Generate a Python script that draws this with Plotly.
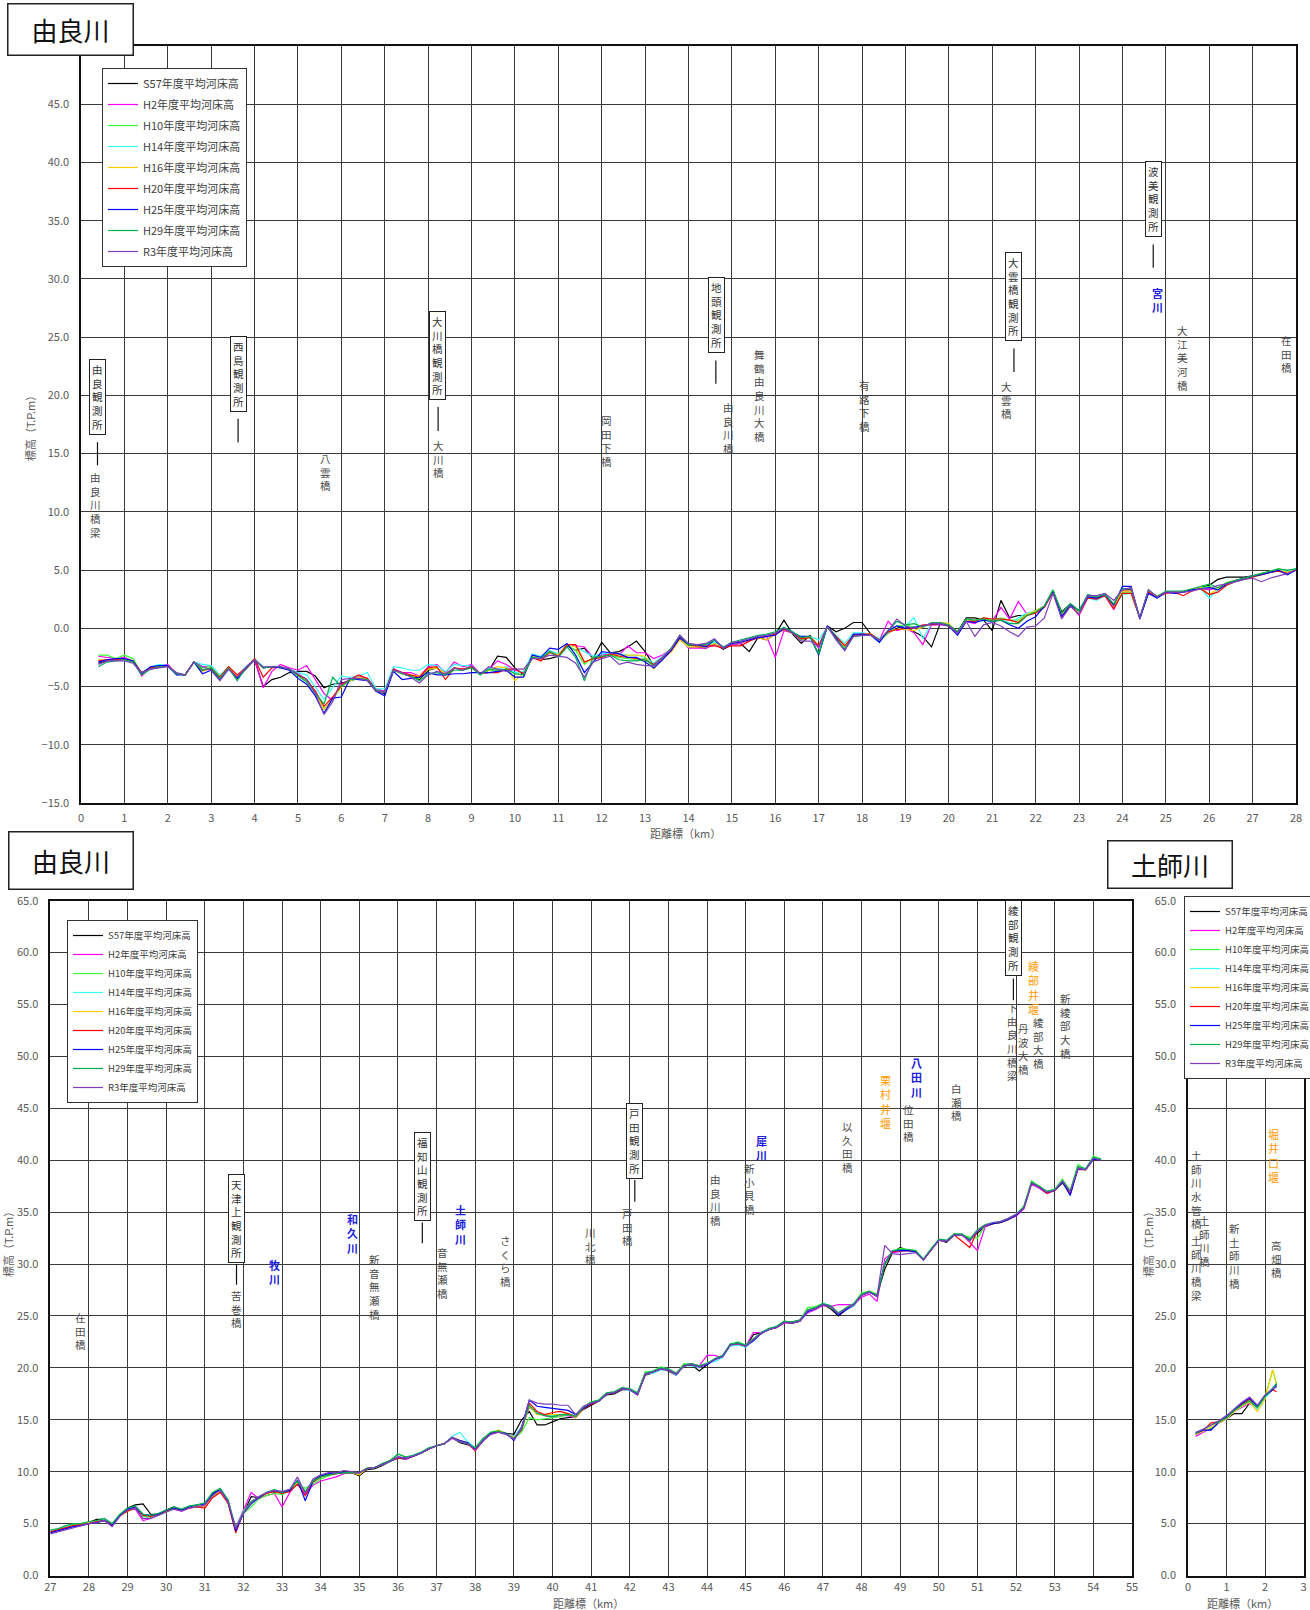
import plotly.graph_objects as go

FONT = "Noto Sans CJK JP, Noto Sans, sans-serif"
W, H = 1310, 1610

series_names = ["S57年度平均河床高", "H2年度平均河床高", "H10年度平均河床高", "H14年度平均河床高",
                "H16年度平均河床高", "H20年度平均河床高", "H25年度平均河床高", "H29年度平均河床高",
                "R3年度平均河床高"]
series_colors = ["#000000", "#ff00ff", "#33ff33", "#33ffff", "#ffcc00", "#ff0000", "#0000ff",
                 "#00b050", "#7f3fbf"]

# ---------------- 由良川 0-28 km ----------------
yura1_km = [round(0.4 + 0.2 * i, 1) for i in range(139)]

yura1_S57 = [-3.0,-2.8,-2.7,-2.6,-2.8,-3.9,-3.5,-3.3,-3.2,-3.9,-4.0,-2.9,-3.6,-3.5,-4.3,-3.4,-4.3,-3.5,-2.7,
             -5.0,-4.4,-4.2,-3.8,-3.7,-3.7,-4.1,-5.1,-4.8,-4.7,-4.5,-4.3,-4.4,-5.4,-5.6,
             -3.5,-3.9,-4.1,-4.4,-3.6,-3.4,-4.0,-3.4,-3.6,-3.3,-3.9,-3.6,-2.4,-2.5,-3.4,
             -4.0,-2.5,-2.7,-2.6,-2.4,-1.5,-1.9,-1.7,-2.6,-1.2,-2.1,-2.0,-1.6,-1.1,-2.0,
             -3.2,-2.6,-2.0,-0.9,-1.6,-1.6,-1.7,-1.3,-1.8,-1.4,-1.3,-2.0,-0.8,-1.0,-0.5,
             0.7,-0.5,-1.3,-0.6,-1.6,0.2,-0.3,0.0,0.5,0.5,-0.5,-1.0,-0.4,0.0,0.2,
             -0.3,-0.7,-1.6,0.4,0.3,-0.3,0.9,0.9,0.7,-0.2,2.4,0.9,1.1,1.1,1.5,
             1.9,3.2,1.4,2.1,1.5,2.8,2.6,2.8,1.9,3.3,3.3,0.9,3.2,2.7,3.1,
             3.1,3.1,3.3,3.5,3.7,4.2,4.4,4.4,4.4,4.5,4.7,4.8,5.0,4.8,5.0]
yura1_H2 = [-2.4,-2.5,-2.6,-2.5,-2.8,-4.1,-3.4,-3.2,-3.1,-3.9,-4.0,-2.9,-3.3,-3.2,-4.1,-3.4,-4.1,-3.3,-2.7,
            -5.1,-3.7,-3.1,-3.4,-3.6,-3.2,-4.4,-5.6,-6.2,-4.8,-4.4,-4.1,-4.3,-5.2,-5.4,
            -3.5,-3.8,-3.8,-4.1,-3.3,-3.1,-3.8,-2.9,-3.3,-3.1,-3.9,-3.5,-2.8,-3.1,-3.6,
            -3.8,-2.4,-2.7,-2.1,-2.4,-1.4,-1.5,-1.6,-2.5,-2.3,-2.2,-2.3,-1.5,-2.1,-2.1,
            -2.6,-2.3,-1.8,-0.8,-1.7,-1.7,-1.7,-1.4,-1.7,-1.4,-1.3,-1.0,-0.8,-0.7,-2.5,
            -0.2,-0.4,-1.0,-0.7,-1.7,0.1,-0.9,-1.8,-0.6,-0.6,-0.5,-1.0,0.6,-0.2,0.0,
            -0.4,-1.4,0.3,0.3,0.2,-0.4,0.6,0.4,0.9,0.6,1.8,0.8,2.3,1.2,1.4,
            1.8,3.2,1.0,2.0,1.1,2.6,2.5,2.8,1.6,3.2,3.2,0.9,3.1,2.6,3.1,
            3.1,3.1,3.3,3.4,3.3,3.5,3.8,4.1,4.3,4.5,4.6,4.8,5.0,4.7,5.0]
yura1_H10 = [-2.3,-2.3,-2.6,-2.3,-2.6,-3.9,-3.4,-3.2,-3.2,-3.9,-4.0,-2.9,-3.4,-3.3,-4.1,-3.3,-4.1,-3.4,-2.6,
             -3.4,-3.3,-3.3,-3.6,-4.0,-4.5,-5.6,-6.9,-6.1,-5.0,-4.5,-4.3,-4.4,-5.4,-5.5,
             -3.6,-3.9,-4.1,-4.3,-3.5,-3.4,-3.9,-3.4,-3.6,-3.3,-3.9,-3.6,-3.6,-3.5,-3.9,
             -4.0,-2.4,-2.6,-2.0,-2.3,-1.4,-1.9,-3.1,-2.5,-2.4,-2.3,-2.5,-2.6,-2.7,-2.6,
             -3.2,-2.5,-1.9,-0.8,-1.5,-1.5,-1.6,-1.2,-1.7,-1.3,-1.2,-1.0,-0.8,-0.6,-0.4,
             -0.1,-0.4,-1.0,-0.7,-2.2,0.1,-0.8,-1.7,-0.6,-0.5,-0.5,-1.1,-0.4,0.2,0.3,
             0.1,0.1,0.4,0.4,0.2,-0.3,0.7,0.6,0.9,0.7,0.9,0.7,0.7,1.2,1.5,
             1.9,3.3,1.2,2.0,1.5,2.8,2.7,2.9,2.0,3.1,3.1,0.9,3.2,2.8,3.1,
             3.1,3.2,3.3,3.5,3.6,3.4,3.9,4.1,4.3,4.5,4.7,4.9,5.1,4.9,5.1]
yura1_H14 = [-2.7,-2.7,-2.7,-2.6,-2.8,-3.8,-3.3,-3.1,-3.2,-3.9,-4.0,-2.9,-3.1,-3.2,-4.0,-3.4,-4.1,-3.3,-2.7,
             -3.3,-3.3,-3.3,-3.5,-3.8,-4.0,-5.0,-6.1,-5.1,-4.1,-4.2,-4.1,-3.8,-5.2,-5.2,
             -3.3,-3.4,-3.6,-3.6,-3.1,-3.2,-3.7,-3.1,-3.2,-3.2,-3.9,-3.4,-3.5,-3.3,-3.8,
             -3.7,-2.2,-2.4,-1.9,-2.2,-1.4,-1.6,-2.0,-2.4,-2.2,-2.1,-2.2,-2.3,-2.3,-2.5,
             -3.0,-2.4,-1.8,-1.0,-1.6,-1.5,-1.6,-1.2,-1.7,-1.3,-1.1,-0.9,-0.7,-0.6,-0.5,
             0.0,-0.3,-0.8,-0.7,-1.0,0.1,-0.6,-1.3,-0.4,-0.4,-0.5,-0.9,-0.3,-0.1,0.2,
             0.9,-0.9,0.4,0.4,0.2,-0.4,0.7,0.6,0.7,0.6,0.8,0.4,0.9,1.3,1.5,
             1.9,3.2,1.1,2.0,1.3,2.6,2.4,2.8,1.8,2.9,3.0,0.9,3.1,2.6,3.1,
             3.1,3.1,3.3,3.4,2.6,3.3,3.7,4.0,4.2,4.4,4.6,4.8,5.0,4.9,5.1]
yura1_H16 = [-2.7,-2.7,-2.7,-2.6,-2.8,-3.9,-3.4,-3.3,-3.2,-3.9,-4.0,-2.9,-3.7,-3.4,-4.2,-3.4,-4.1,-3.4,-2.7,
             -3.4,-3.3,-3.4,-3.5,-4.0,-4.4,-5.5,-7.0,-6.0,-5.0,-4.5,-4.2,-4.4,-5.4,-5.5,
             -3.6,-3.9,-4.0,-4.1,-3.5,-3.4,-3.9,-3.4,-3.5,-3.3,-3.9,-3.6,-3.3,-3.4,-4.5,
             -3.9,-2.4,-2.7,-2.1,-2.3,-1.4,-1.6,-2.9,-2.7,-2.5,-2.2,-2.3,-2.3,-2.3,-2.4,
             -3.5,-2.6,-2.0,-1.0,-1.6,-1.6,-1.6,-1.3,-1.7,-1.3,-1.2,-1.0,-0.8,-1.0,-0.5,
             -0.1,-0.4,-0.9,-0.7,-1.5,0.1,-0.7,-1.5,-0.6,-0.5,-0.5,-1.0,-0.3,-0.1,-0.1,
             -0.2,0.1,0.4,0.5,0.4,-0.4,0.7,0.7,0.8,0.6,0.8,0.7,0.5,1.2,1.5,
             1.9,3.2,1.1,2.0,1.4,2.7,2.6,2.9,1.9,3.2,3.2,0.9,3.2,2.7,3.1,
             3.1,3.1,3.3,3.5,2.9,3.4,3.9,4.1,4.3,4.5,4.6,4.9,5.0,4.8,5.0]
yura1_H20 = [-2.8,-2.7,-2.7,-2.6,-2.8,-3.8,-3.4,-3.3,-3.2,-3.9,-4.0,-2.9,-3.6,-3.4,-4.2,-3.3,-4.0,-3.4,-2.6,
             -4.2,-3.4,-3.3,-3.5,-4.0,-4.4,-5.4,-6.7,-5.9,-4.9,-4.4,-4.0,-4.3,-5.3,-5.5,
             -3.5,-3.8,-4.0,-4.2,-3.4,-3.3,-4.4,-3.4,-3.5,-3.3,-3.9,-3.8,-3.8,-3.5,-3.5,
             -3.9,-2.5,-2.8,-2.0,-2.4,-1.4,-1.4,-2.9,-2.6,-2.5,-2.2,-2.4,-2.5,-2.6,-2.7,
             -3.1,-2.5,-1.9,-0.8,-1.4,-1.5,-1.5,-1.5,-1.7,-1.5,-1.5,-1.1,-0.8,-0.7,-0.5,
             -0.1,-0.4,-0.9,-0.8,-1.5,0.1,-0.7,-1.5,-0.6,-0.5,-0.5,-1.0,-0.3,-0.1,0.0,
             0.0,0.3,0.3,0.4,0.2,-0.4,0.6,0.6,0.9,0.8,0.8,0.7,0.5,1.1,1.3,
             1.8,3.1,1.0,1.9,1.2,2.6,2.5,2.8,1.7,3.0,3.0,0.9,3.1,2.7,3.0,
             3.1,2.8,3.2,3.4,2.9,3.1,3.7,4.0,4.2,4.4,4.6,4.8,4.9,4.7,5.0]
yura1_H25 = [-2.9,-2.7,-2.6,-2.6,-2.8,-3.9,-3.3,-3.2,-3.2,-4.0,-4.0,-2.9,-3.9,-3.6,-4.4,-3.5,-4.3,-3.4,-2.7,
             -3.4,-3.3,-3.4,-3.6,-4.3,-4.8,-5.8,-7.3,-6.0,-5.9,-4.3,-4.4,-4.5,-5.4,-5.8,
             -3.7,-4.4,-4.3,-4.2,-3.8,-4.0,-4.0,-3.9,-3.9,-3.8,-3.8,-3.8,-3.7,-3.6,-4.2,
             -4.2,-2.3,-2.5,-1.7,-1.8,-1.3,-2.3,-3.8,-2.9,-2.0,-2.1,-2.2,-2.5,-2.5,-2.9,
             -3.4,-2.7,-1.9,-0.8,-1.4,-1.4,-1.6,-1.0,-1.7,-1.3,-1.2,-1.0,-0.8,-0.7,-0.6,
             0.0,-0.4,-0.7,-0.7,-2.3,0.2,-0.8,-1.9,-0.5,-0.5,-0.6,-1.2,-0.2,0.2,0.0,
             0.1,0.2,0.4,0.4,0.2,-0.6,0.6,0.5,0.7,0.6,0.7,0.3,0.0,0.6,1.0,
             1.9,3.2,1.0,2.0,1.5,2.7,2.6,2.9,2.0,3.6,3.6,0.8,3.0,2.6,3.1,
             3.0,3.1,3.3,3.4,3.5,3.3,3.8,4.1,4.3,4.5,4.6,4.8,5.0,4.6,5.0]
yura1_H29 = [-3.3,-2.9,-2.8,-2.7,-2.9,-4.0,-3.5,-3.3,-3.3,-3.9,-4.0,-2.9,-3.6,-3.4,-4.3,-3.4,-4.5,-3.4,-2.7,
             -3.4,-3.3,-3.3,-3.5,-4.1,-4.6,-5.6,-6.5,-4.2,-5.0,-4.4,-4.3,-4.4,-5.3,-5.5,
             -3.6,-3.9,-4.1,-4.5,-3.9,-3.8,-4.0,-3.6,-3.6,-3.4,-4.0,-3.5,-3.6,-3.5,-3.9,
             -4.0,-2.5,-2.6,-2.0,-2.5,-1.6,-2.5,-4.5,-2.5,-2.4,-2.3,-2.7,-2.8,-2.8,-2.7,
             -3.2,-2.5,-1.7,-0.6,-1.4,-1.4,-1.4,-1.0,-1.6,-1.2,-1.0,-0.8,-0.6,-0.5,-0.3,
             0.1,-0.3,-0.8,-0.7,-2.2,0.2,-0.9,-1.8,-0.7,-0.6,-0.6,-1.0,-0.2,0.6,0.3,
             0.4,0.1,0.5,0.5,0.3,-0.3,0.8,0.7,0.8,0.6,0.7,0.4,0.4,1.1,1.4,
             1.9,3.3,1.3,2.1,1.5,2.9,2.7,2.9,2.1,3.4,3.4,0.9,3.3,2.7,3.2,
             3.2,3.2,3.4,3.6,3.8,3.5,3.9,4.1,4.3,4.5,4.7,4.9,5.1,5.0,5.1]
yura1_R3 = [-3.1,-2.8,-2.8,-2.8,-3.0,-3.8,-3.5,-3.4,-3.3,-3.8,-4.0,-2.9,-3.3,-3.6,-4.5,-3.5,-4.2,-3.4,-2.7,
            -3.3,-3.3,-3.3,-3.5,-3.9,-4.4,-5.6,-7.4,-6.3,-4.4,-4.3,-4.3,-4.5,-5.4,-5.5,
            -3.6,-3.8,-4.2,-4.7,-4.0,-3.7,-3.9,-3.4,-3.6,-3.2,-3.9,-3.3,-3.5,-3.7,-3.5,
            -3.5,-2.6,-2.6,-2.3,-2.4,-2.5,-3.0,-4.2,-2.9,-2.6,-2.4,-3.1,-2.9,-3.1,-3.2,
            -3.2,-2.5,-1.8,-0.6,-1.3,-1.4,-1.3,-0.9,-1.7,-1.2,-1.1,-0.9,-0.7,-0.6,-0.4,
            0.0,-0.4,-1.1,-1.1,-1.6,0.2,-1.0,-1.9,-0.7,-0.6,-0.6,-1.0,-0.2,0.8,0.2,
            0.0,0.2,0.4,0.4,0.2,-0.4,0.6,-0.7,0.3,0.5,0.2,-0.3,-0.7,0.1,0.2,
            0.9,3.0,0.8,1.9,1.2,2.8,2.8,3.0,2.4,3.3,3.5,0.9,3.3,2.7,3.1,
            3.1,3.1,3.2,3.4,3.4,3.7,3.8,4.0,4.2,4.3,4.0,4.3,4.5,4.7,5.0]

# ---------------- 由良川 27-55 km ----------------
yura2_km = [round(27.0 + 0.2 * i, 1) for i in range(137)]

yura2_S57 = [4.3,4.5,4.6,4.9,5.0,5.1,5.4,5.4,4.9,5.8,6.5,6.8,6.9,5.9,5.9,
             6.3,6.6,6.3,6.6,6.7,6.8,7.9,8.3,7.0,4.5,6.0,7.6,7.5,8.0,8.0,
             8.0,8.1,9.1,8.0,9.1,9.6,9.8,9.9,10.0,9.9,9.6,10.2,10.3,10.6,11.0,
             11.3,11.2,11.5,11.8,12.2,12.5,12.7,13.3,12.8,12.6,12.3,13.1,13.7,13.9,13.7,
             13.6,15.0,15.8,14.5,14.5,14.8,15.1,15.2,15.3,16.0,16.4,16.8,17.4,17.5,17.9,
             17.9,17.4,19.3,19.5,19.9,19.7,19.3,20.2,20.3,19.7,20.3,20.8,21.1,22.2,22.3,
             22.0,23.2,23.4,23.7,23.9,24.4,24.4,24.6,25.5,25.8,26.1,25.7,25.0,25.6,26.0,
             27.0,27.3,27.0,29.5,31.1,31.6,31.3,31.2,30.4,31.4,32.3,32.1,32.8,32.8,32.4,
             33.0,33.6,33.9,34.0,34.3,34.7,35.4,37.8,37.4,36.9,37.1,37.8,37.0,39.2,39.1,
             40.2,40.0]
yura2_H2 = [4.2,4.4,4.7,4.8,4.9,5.0,5.2,5.3,4.8,5.7,6.3,6.4,5.3,5.5,5.8,
            6.2,6.4,6.2,6.5,6.6,6.7,7.6,8.1,7.0,4.6,6.3,8.0,7.4,7.7,7.9,
            6.6,8.0,8.9,7.8,8.7,9.1,9.3,9.5,9.8,9.9,9.8,10.3,10.4,10.7,11.0,
            11.5,11.2,11.5,11.8,12.2,12.5,12.7,13.2,12.9,12.7,12.1,13.0,13.6,13.8,13.6,
            13.4,14.2,16.2,15.7,15.4,15.2,15.4,15.4,15.2,16.1,16.6,16.8,17.5,17.6,18.0,
            17.9,17.4,19.4,19.6,19.9,19.8,19.3,20.3,20.4,20.2,21.2,21.2,21.0,22.3,22.3,
            22.1,23.4,23.4,23.7,23.9,24.3,24.3,24.5,25.3,25.6,26.0,25.9,26.1,26.1,26.1,
            26.8,27.1,26.4,30.5,31.1,31.2,31.3,31.2,30.4,31.4,32.3,32.2,32.9,32.8,32.1,
            31.3,33.6,33.9,34.1,34.3,34.6,35.3,37.7,37.3,36.8,37.1,38.0,37.0,39.3,39.1,
            40.2,40.0]
yura2_H10 = [4.3,4.5,4.7,4.9,5.0,5.1,5.2,5.3,4.9,5.8,6.2,6.5,5.7,5.6,5.8,
             6.1,6.4,6.3,6.6,6.6,6.8,7.6,8.1,7.3,4.5,6.0,6.6,7.4,7.7,7.9,
             7.8,8.2,8.8,8.4,8.8,9.3,9.6,9.8,9.9,9.9,9.9,10.4,10.4,10.7,11.0,
             11.7,11.4,11.5,11.8,12.3,12.5,12.7,13.3,12.9,12.7,12.2,13.1,13.8,14.0,13.7,
             13.2,13.8,15.2,15.0,15.1,15.2,15.3,15.5,15.4,16.2,16.7,16.9,17.6,17.7,18.1,
             17.9,17.6,19.6,19.7,20.1,19.9,19.4,20.4,20.3,20.2,20.5,20.8,21.1,22.3,22.5,
             22.2,22.8,23.3,23.7,24.0,24.5,24.3,24.5,25.8,25.9,26.2,25.8,25.2,25.8,26.2,
             27.2,27.4,27.1,30.0,31.2,31.5,31.4,31.3,30.4,31.5,32.3,32.2,32.9,32.8,32.6,
             32.5,33.7,33.9,34.0,34.3,34.8,35.6,38.0,37.5,37.0,37.2,38.2,37.1,39.6,39.1,
             40.4,40.1]
yura2_H14 = [4.3,4.5,4.7,4.8,5.0,5.1,5.2,5.4,4.9,5.8,6.3,6.5,5.8,5.7,5.9,
             6.2,6.5,6.3,6.6,6.7,6.9,7.8,8.2,7.1,4.4,6.2,7.1,7.5,7.9,8.1,
             7.9,8.2,9.0,8.1,9.0,9.5,9.7,9.8,9.9,9.9,9.9,10.3,10.4,10.7,11.0,
             11.4,11.3,11.5,11.8,12.2,12.5,12.7,13.4,13.8,12.9,12.3,13.2,13.7,13.9,13.6,
             13.4,14.3,16.3,15.7,15.5,15.4,15.5,15.6,15.4,16.1,16.6,16.8,17.5,17.6,18.0,
             17.8,17.5,19.4,19.5,19.8,19.8,19.3,20.2,20.2,20.0,20.5,20.6,21.0,22.1,22.2,
             22.0,22.6,23.3,23.7,23.9,24.4,24.3,24.5,25.4,25.7,26.1,25.9,25.2,25.6,26.0,
             27.0,27.3,26.9,30.1,31.3,31.3,31.3,31.2,30.4,31.4,32.3,32.2,32.8,32.8,32.3,
             33.2,33.7,33.9,34.0,34.3,34.7,35.4,37.8,37.4,36.9,37.1,37.9,36.9,39.2,39.1,
             40.2,40.1]
yura2_H16 = [4.2,4.4,4.6,4.8,4.9,5.1,5.2,5.3,4.9,5.7,6.2,6.5,5.9,5.7,5.9,
             6.2,6.5,6.3,6.6,6.7,6.7,7.7,8.1,7.1,4.4,6.0,7.0,7.5,7.9,8.1,
             7.9,8.2,9.0,8.0,9.0,9.5,9.7,9.8,9.9,9.9,9.7,10.3,10.4,10.7,11.0,
             11.4,11.3,11.5,11.8,12.2,12.5,12.7,13.3,13.0,12.8,12.2,13.1,13.7,14.0,13.6,
             13.3,14.0,16.3,15.5,15.5,15.5,15.5,15.6,15.2,16.1,16.6,16.8,17.5,17.6,18.0,
             17.9,17.5,19.4,19.6,19.9,19.8,19.4,20.2,20.3,20.1,20.4,20.8,21.1,22.2,22.3,
             22.1,22.7,23.3,23.7,23.9,24.4,24.3,24.5,25.5,25.7,26.1,25.9,25.2,25.7,26.1,
             27.0,27.3,26.9,30.0,31.3,31.3,31.3,31.2,30.4,31.4,32.3,32.2,32.8,32.8,32.2,
             33.2,33.7,33.9,34.0,34.3,34.7,35.4,37.8,37.4,36.9,37.1,37.9,36.9,39.2,39.1,
             40.2,40.0]
yura2_H20 = [4.2,4.4,4.6,4.8,4.9,5.0,5.2,5.3,4.9,5.8,6.2,6.5,5.8,5.7,5.9,
             6.2,6.5,6.3,6.5,6.6,6.5,7.5,8.0,7.0,4.1,6.1,7.1,7.5,7.9,8.1,
             7.9,8.1,8.8,7.7,9.0,9.5,9.7,9.8,9.9,9.9,9.9,10.3,10.4,10.7,11.1,
             11.3,11.3,11.5,11.8,12.2,12.5,12.7,13.3,13.0,12.7,12.0,13.0,13.7,13.9,13.6,
             13.2,14.0,16.6,15.8,15.5,15.7,15.8,15.6,15.3,16.1,16.5,16.8,17.5,17.6,18.0,
             17.9,17.5,19.4,19.6,19.9,19.8,19.4,20.2,20.3,20.1,20.4,20.8,21.1,22.2,22.3,
             22.1,22.7,23.3,23.7,23.9,24.4,24.3,24.5,25.5,25.7,26.1,25.9,25.2,25.7,26.1,
             27.0,27.3,26.9,30.0,31.2,31.3,31.3,31.2,30.4,31.4,32.3,32.2,32.8,32.2,31.6,
             33.2,33.7,33.9,34.0,34.3,34.7,35.4,37.8,37.4,36.8,37.1,37.9,36.8,39.1,39.1,
             40.1,40.0]
yura2_H25 = [4.1,4.3,4.5,4.7,4.8,5.0,5.1,5.3,4.8,5.8,6.4,6.6,5.9,5.8,5.9,
             6.3,6.5,6.3,6.6,6.8,6.9,7.8,8.3,7.2,4.3,6.0,6.9,7.5,8.0,8.2,
             8.0,8.2,9.2,7.2,9.1,9.6,9.8,9.9,9.9,9.9,9.9,10.3,10.4,10.7,11.0,
             11.4,11.3,11.5,11.8,12.2,12.5,12.7,13.3,13.0,12.8,12.2,13.0,13.7,13.8,13.7,
             13.0,14.3,16.9,16.3,16.2,16.1,16.0,15.9,15.5,16.1,16.6,16.8,17.5,17.6,18.0,
             17.9,17.5,19.4,19.6,19.9,19.8,19.4,20.2,20.3,20.1,20.3,20.8,21.1,22.2,22.4,
             22.1,22.6,23.3,23.7,23.9,24.4,24.3,24.5,25.4,25.7,26.1,25.9,25.1,25.6,26.1,
             27.0,27.3,26.9,30.0,31.3,31.3,31.3,31.2,30.4,31.4,32.3,32.2,32.8,32.8,32.3,
             33.2,33.7,33.9,34.0,34.3,34.7,35.4,37.8,37.4,36.9,37.1,37.9,36.6,39.2,39.1,
             40.1,40.0]
yura2_H29 = [4.4,4.5,4.8,5.0,5.0,5.2,5.3,5.5,5.0,5.9,6.5,6.7,5.9,5.8,6.0,
             6.3,6.6,6.4,6.7,6.8,7.0,8.0,8.4,7.3,4.6,6.1,7.1,7.6,8.0,8.3,
             8.0,8.3,9.1,8.1,9.1,9.5,9.7,9.8,9.9,9.9,9.9,10.3,10.4,10.8,11.1,
             11.7,11.4,11.6,11.9,12.3,12.5,12.7,13.3,12.9,12.7,12.3,13.2,13.8,13.9,13.6,
             13.2,14.1,16.4,15.6,15.4,15.3,15.5,15.5,15.3,16.2,16.7,16.9,17.6,17.7,18.1,
             18.0,17.6,19.5,19.7,20.0,19.9,19.5,20.3,20.4,20.2,20.4,20.9,21.2,22.3,22.4,
             22.2,22.8,23.4,23.8,24.0,24.5,24.4,24.6,25.6,25.8,26.2,26.0,25.3,25.8,26.2,
             27.1,27.4,27.0,30.0,31.3,31.4,31.4,31.3,30.5,31.5,32.4,32.3,32.9,32.9,32.4,
             33.3,33.8,34.0,34.1,34.4,34.8,35.5,37.9,37.5,37.0,37.2,38.0,37.0,39.4,39.2,
             40.3,40.1]
yura2_R3 = [4.0,4.2,4.4,4.6,4.8,5.0,5.1,5.3,4.7,5.7,6.3,6.5,5.5,5.5,5.8,
            6.1,6.4,6.2,6.5,6.6,6.8,7.7,8.2,7.1,4.5,6.0,7.0,7.6,8.0,8.2,
            8.1,8.3,9.5,7.9,9.3,9.7,9.9,9.9,10.1,10.0,9.9,10.3,10.4,10.7,11.0,
            11.4,11.3,11.5,11.8,12.2,12.5,12.7,13.3,12.9,12.7,12.1,13.0,13.6,13.8,13.6,
            13.1,14.2,16.9,16.6,16.5,16.5,16.4,16.4,15.5,16.3,16.6,16.8,17.5,17.6,18.0,
            17.9,17.4,19.4,19.6,19.9,19.8,19.4,20.2,20.3,20.1,20.4,20.8,21.1,22.2,22.3,
            22.1,22.7,23.3,23.7,23.9,24.4,24.3,24.5,25.5,25.7,26.1,25.9,25.2,25.7,26.1,
            27.0,27.3,26.9,31.8,31.0,30.9,31.0,31.1,30.4,31.4,32.3,32.2,32.8,32.8,32.2,
            33.2,33.7,34.0,34.1,34.4,34.8,35.4,37.8,37.4,36.9,37.1,38.0,37.0,39.2,39.1,
            40.2,40.0]

# ---------------- 土師川 0-3 km ----------------
hazi_km = [0.2, 0.4, 0.6, 0.8, 1.0, 1.2, 1.4, 1.6, 1.8, 2.0, 2.2, 2.3]
hazi_S57 = [13.6,13.9,14.1,14.7,15.1,15.6,15.6,16.6,16.2,17.3,17.9,18.2]
hazi_H2  = [13.4,13.8,14.2,14.7,15.1,15.8,16.2,16.6,16.1,17.2,17.9,18.3]
hazi_H10 = [13.6,13.9,14.2,14.8,15.2,15.9,16.4,16.9,16.2,17.2,19.8,18.5]
hazi_H14 = [13.6,13.9,14.3,14.7,15.1,15.8,16.3,16.7,16.0,17.1,17.9,18.3]
hazi_H16 = [13.6,13.9,14.3,14.7,15.1,15.8,16.3,16.7,15.8,17.0,19.8,18.3]
hazi_H20 = [13.7,14.0,14.7,14.8,15.2,15.9,16.5,17.0,16.3,17.3,17.9,17.7]
hazi_H25 = [13.7,14.0,14.0,14.8,15.3,16.0,16.6,17.1,16.3,17.3,17.9,18.4]
hazi_H29 = [13.7,14.1,14.5,14.8,15.2,15.9,16.4,16.8,16.2,17.2,18.0,18.5]
hazi_R3  = [13.8,14.1,14.5,14.9,15.4,16.1,16.7,17.2,16.4,17.4,18.0,18.2]

yura1_series = [yura1_S57, yura1_H2, yura1_H10, yura1_H14, yura1_H16, yura1_H20, yura1_H25, yura1_H29, yura1_R3]
yura2_series = [yura2_S57, yura2_H2, yura2_H10, yura2_H14, yura2_H16, yura2_H20, yura2_H25, yura2_H29, yura2_R3]
hazi_series = [hazi_S57, hazi_H2, hazi_H10, hazi_H14, hazi_H16, hazi_H20, hazi_H25, hazi_H29, hazi_R3]
for s in yura1_series:
    assert len(s) == len(yura1_km), len(s)
for s in yura2_series:
    assert len(s) == len(yura2_km), len(s)
for s in hazi_series:
    assert len(s) == len(hazi_km), len(s)

# ---------------- labels (x km, centre elevation, text) ----------------
yura1_stations = [(0.38, 19.83, "由良観測所"), (3.62, 21.83, "西島観測所"), (8.22, 23.43, "大川橋観測所"),
                  (14.64, 26.87, "地頭観測所"), (21.50, 28.47, "大雲橋観測所"), (24.71, 36.88, "波美観測所")]
yura1_ticks = [(0.38, 15.98, 14.0), (3.62, 18.0, 15.95), (8.23, 19.0, 16.95),
               (14.63, 23.0, 21.0), (21.50, 24.03, 22.0), (24.71, 32.96, 30.95)]
yura1_bridges = [(0.33, 10.62, "由良川橋梁"), (5.63, 13.45, "八雲橋"), (8.23, 14.5, "大川橋"),
                 (12.10, 16.1, "岡田下橋"), (14.92, 17.2, "由良川橋"), (15.63, 19.95, "舞鶴由良川大橋"),
                 (18.06, 19.1, "有路下橋"), (21.33, 19.58, "大雲橋"), (25.39, 23.2, "大江美河橋"),
                 (27.77, 23.55, "在田橋")]
yura1_rivers = [(24.80, 28.15, "宮川")]
yura1_weirs = []

yura2_stations = [(31.82, 34.43, "天津上観測所"), (36.63, 38.45, "福知山観測所"),
                  (42.13, 41.88, "戸田観測所"), (51.93, 61.45, "綾部観測所")]
yura2_ticks = [(31.82, 30.0, 28.0), (36.63, 34.0, 32.0), (42.13, 38.1, 36.0), (51.93, 57.5, 55.4)]
yura2_bridges = [(27.79, 23.55, "在田橋"), (31.82, 25.67, "苦巻橋"), (35.40, 27.78, "新音無瀬橋"),
                 (37.16, 29.18, "音無瀬橋"), (38.79, 30.25, "さくら橋"), (40.99, 31.7, "川北橋"),
                 (41.94, 33.6, "戸田橋"), (44.22, 36.15, "由良川橋"), (45.11, 37.2, "新小貝橋"),
                 (47.64, 41.23, "以久田橋"), (49.22, 43.6, "位田橋"), (50.45, 45.6, "白瀬橋"),
                 (51.90, 51.4, "下由良川橋梁"), (52.19, 50.75, "丹波大橋"), (52.59, 51.25, "綾部大橋"),
                 (53.28, 52.9, "新綾部大橋")]
yura2_rivers = [(32.80, 29.2, "牧川"), (34.82, 32.95, "和久川"), (37.62, 33.85, "土師川"),
                (45.42, 41.2, "犀川"), (49.42, 47.95, "八田川")]
yura2_weirs = [(48.63, 45.65, "栗村井堰"), (52.44, 56.6, "綾部井堰")]

hazi_stations = []
hazi_ticks = []
hazi_bridges = [(0.22, 37.2, "土師川水管橋"), (0.44, 32.2, "土師川橋"), (0.22, 29.65, "土師川橋梁"),
                (1.20, 30.8, "新土師川橋"), (2.30, 30.5, "高畑橋")]
hazi_rivers = []
hazi_weirs = [(2.22, 40.45, "堀井口堰")]

# ---------------- figure ----------------
fig = go.Figure()

panels = [
    dict(xa="x", ya="y", leg="legend", km=yura1_km, series=yura1_series, tag="u"),
    dict(xa="x2", ya="y2", leg="legend2", km=yura2_km, series=yura2_series, tag="d"),
    dict(xa="x3", ya="y3", leg="legend3", km=hazi_km, series=hazi_series, tag="h"),
]
for p in panels:
    for name, color, vals in zip(series_names, series_colors, p["series"]):
        fig.add_trace(go.Scatter(
            x=p["km"], y=vals, mode="lines", name=name,
            line=dict(color=color, width=1.2),
            xaxis=p["xa"], yaxis=p["ya"], legend=p["leg"],
            legendgroup=p["tag"] + name, hoverinfo="skip"))

def px_x(px):
    return px / W

def px_y(py):
    return 1 - py / H

TICKFONT = dict(family=FONT, size=11, color="#595959")
axis_common = dict(showline=True, mirror=True, linecolor="#111111", linewidth=1.5,
                   showgrid=True, gridcolor="#3a3a3a", gridwidth=1, zeroline=False,
                   ticks="", tickfont=TICKFONT, fixedrange=True, automargin=False)

fig.update_layout(
    width=W, height=H, margin=dict(l=0, r=0, t=0, b=0, pad=0, autoexpand=False),
    paper_bgcolor="white", plot_bgcolor="white", showlegend=True,
    font=dict(family=FONT),
    xaxis=dict(domain=[px_x(81), px_x(1296)], range=[0, 28], dtick=1, anchor="y",
               ticklabelstandoff=4, **axis_common),
    yaxis=dict(domain=[px_y(803), px_y(46)], range=[-15, 50], anchor="x",
               tickvals=list(range(-15, 46, 5)), tickformat=".1f", ticklabelstandoff=8, **axis_common),
    xaxis2=dict(domain=[px_x(50.3), px_x(1132)], range=[27, 55], dtick=1, anchor="y2",
                ticklabelstandoff=1, **axis_common),
    yaxis2=dict(domain=[px_y(1575.5), px_y(900.7)], range=[0, 65], anchor="x2",
                tickvals=list(range(0, 66, 5)), tickformat=".1f", ticklabelstandoff=8, **axis_common),
    xaxis3=dict(domain=[px_x(1188), px_x(1303.5)], range=[0, 3], dtick=1, anchor="y3",
                ticklabelstandoff=1, **axis_common),
    yaxis3=dict(domain=[px_y(1575.5), px_y(900.7)], range=[0, 65], anchor="x3",
                tickvals=list(range(0, 66, 5)), tickformat=".1f", ticklabelstandoff=8, **axis_common),
    legend=dict(x=px_x(102), y=px_y(68), xanchor="left", yanchor="top", bgcolor="white",
                bordercolor="#333333", borderwidth=1, font=dict(family=FONT, size=11, color="#404040"),
                tracegroupgap=2, itemwidth=30),
    legend2=dict(x=px_x(67), y=px_y(920), xanchor="left", yanchor="top", bgcolor="white",
                 bordercolor="#333333", borderwidth=1, font=dict(family=FONT, size=9.5, color="#404040"),
                 tracegroupgap=0, itemwidth=30),
    legend3=dict(x=px_x(1184), y=px_y(896), xanchor="left", yanchor="top", bgcolor="white",
                 bordercolor="#333333", borderwidth=1, font=dict(family=FONT, size=9.5, color="#404040"),
                 tracegroupgap=0, itemwidth=30),
)

annotations = []
shapes = []

def vtext(s):
    return "<br>".join(list(s))

LBL = 10.5
label_sets = [
    ("x", "y", yura1_stations, yura1_ticks, yura1_bridges, yura1_rivers, yura1_weirs),
    ("x2", "y2", yura2_stations, yura2_ticks, yura2_bridges, yura2_rivers, yura2_weirs),
    ("x3", "y3", hazi_stations, hazi_ticks, hazi_bridges, hazi_rivers, hazi_weirs),
]
for xa, ya, stations, ticks, bridges, rivers, weirs in label_sets:
    for x, y, t in stations:
        annotations.append(dict(x=x, y=y, xref=xa, yref=ya, text=vtext(t), showarrow=False,
                                xanchor="center", yanchor="middle",
                                font=dict(family=FONT, size=LBL, color="#333333"),
                                bgcolor="white", bordercolor="#222222", borderwidth=1, borderpad=2))
    for x, y0, y1 in ticks:
        shapes.append(dict(type="line", xref=xa, yref=ya, x0=x, x1=x, y0=y0, y1=y1,
                           line=dict(color="#111111", width=1.2)))
    for x, y, t in bridges:
        annotations.append(dict(x=x, y=y, xref=xa, yref=ya, text=vtext(t), showarrow=False,
                                xanchor="center", yanchor="middle",
                                font=dict(family=FONT, size=LBL, color="#4a4a4a")))
    for x, y, t in rivers:
        annotations.append(dict(x=x, y=y, xref=xa, yref=ya, text="<b>" + vtext(t) + "</b>",
                                showarrow=False, xanchor="center", yanchor="middle",
                                font=dict(family=FONT, size=11, color="#2020dd")))
    for x, y, t in weirs:
        annotations.append(dict(x=x, y=y, xref=xa, yref=ya, text=vtext(t), showarrow=False,
                                xanchor="center", yanchor="middle",
                                font=dict(family=FONT, size=11, color="#ff9a00")))

# panel titles
for (x0, y0, w, h, t) in [(7, 3, 128, 54, "由良川"), (8, 831, 127, 60, "由良川"), (1107, 840, 127, 50, "土師川")]:
    annotations.append(dict(x=px_x(x0), y=px_y(y0), xref="paper", yref="paper", xanchor="left",
                            yanchor="top", text=t, showarrow=False, width=w - 6, height=h - 6,
                            font=dict(family=FONT, size=26, color="#111111"), bgcolor="white",
                            bordercolor="#222222", borderwidth=1.5, borderpad=1))

# axis titles
AXT = dict(family=FONT, size=11, color="#595959")
for (x, y) in [(30, 426), (8, 1242), (1148, 1242)]:
    annotations.append(dict(x=px_x(x), y=px_y(y), xref="paper", yref="paper", text="標高（T.P.m）",
                            textangle=-90, showarrow=False, font=AXT, xanchor="center", yanchor="middle"))
for (x, y) in [(685, 833), (588, 1603), (1242, 1603)]:
    annotations.append(dict(x=px_x(x), y=px_y(y), xref="paper", yref="paper", text="距離標（km）",
                            showarrow=False, font=AXT, xanchor="center", yanchor="middle"))

fig.update_layout(annotations=annotations, shapes=shapes)
fig.write_html("out.html")
